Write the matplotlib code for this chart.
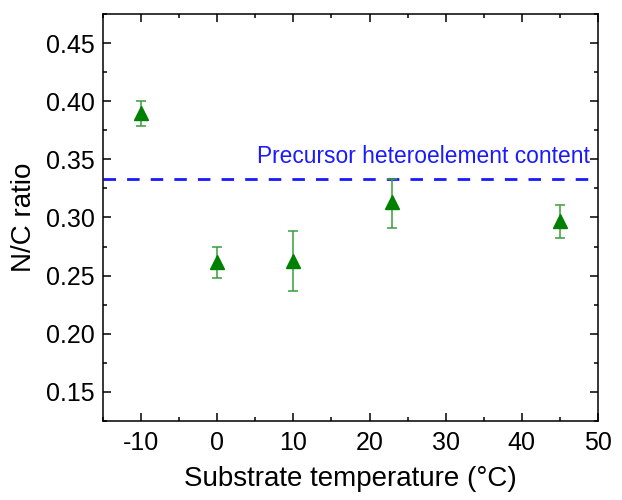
import numpy as np
import matplotlib.pyplot as plt
from matplotlib.ticker import MultipleLocator

plt.rcParams['font.family'] = ['Liberation Sans', 'DejaVu Sans']
plt.rcParams['axes.unicode_minus'] = False

# Measured N/C ratio vs substrate temperature
temp = [-10, 0, 10, 23, 45]
ratio = [0.390, 0.262, 0.263, 0.313, 0.297]
err_lo = [0.379, 0.248, 0.237, 0.291, 0.282]
err_hi = [0.400, 0.275, 0.288, 0.333, 0.311]
precursor = 0.333

ratio_arr = np.array(ratio)
yerr = [ratio_arr - np.array(err_lo), np.array(err_hi) - ratio_arr]

fig = plt.figure(figsize=(6.22, 5.0), dpi=100)
ax = fig.add_axes([0.1656, 0.158, 0.7958, 0.814])

ax.axhline(precursor, color='#1a1aff', lw=2, dashes=(4.5, 4))
ax.text(5.2, 0.347, 'Precursor heteroelement content', color='#1a1aff',
        fontsize=16.4, ha='left', va='baseline')

ax.errorbar(temp, ratio, yerr=yerr, fmt='none', ecolor='#3c9c3c',
            elinewidth=1.1, capsize=3.5, capthick=1.1)
ax.plot(temp, ratio, '^', color='#008000', markersize=10, ls='none')

ax.set_xlim(-15, 50)
ax.set_ylim(0.125, 0.475)
ax.xaxis.set_major_locator(MultipleLocator(10))
ax.xaxis.set_minor_locator(MultipleLocator(5))
ax.yaxis.set_major_locator(MultipleLocator(0.05))
ax.yaxis.set_minor_locator(MultipleLocator(0.025))
ax.yaxis.set_major_formatter(plt.FormatStrFormatter('%.2f'))

ax.tick_params(which='both', direction='in', top=True, right=True, width=1.1)
ax.tick_params(which='major', length=5.5, labelsize=18)
ax.tick_params(axis='x', which='major', pad=7)
ax.tick_params(axis='y', which='major', pad=6)
ax.tick_params(which='minor', length=3)
for s in ax.spines.values():
    s.set_linewidth(1.1)

ax.set_xlabel('Substrate temperature (°C)', fontsize=20, labelpad=8)
ax.set_ylabel('N/C ratio', fontsize=20, labelpad=6)

fig.savefig('out.png', dpi=100)
